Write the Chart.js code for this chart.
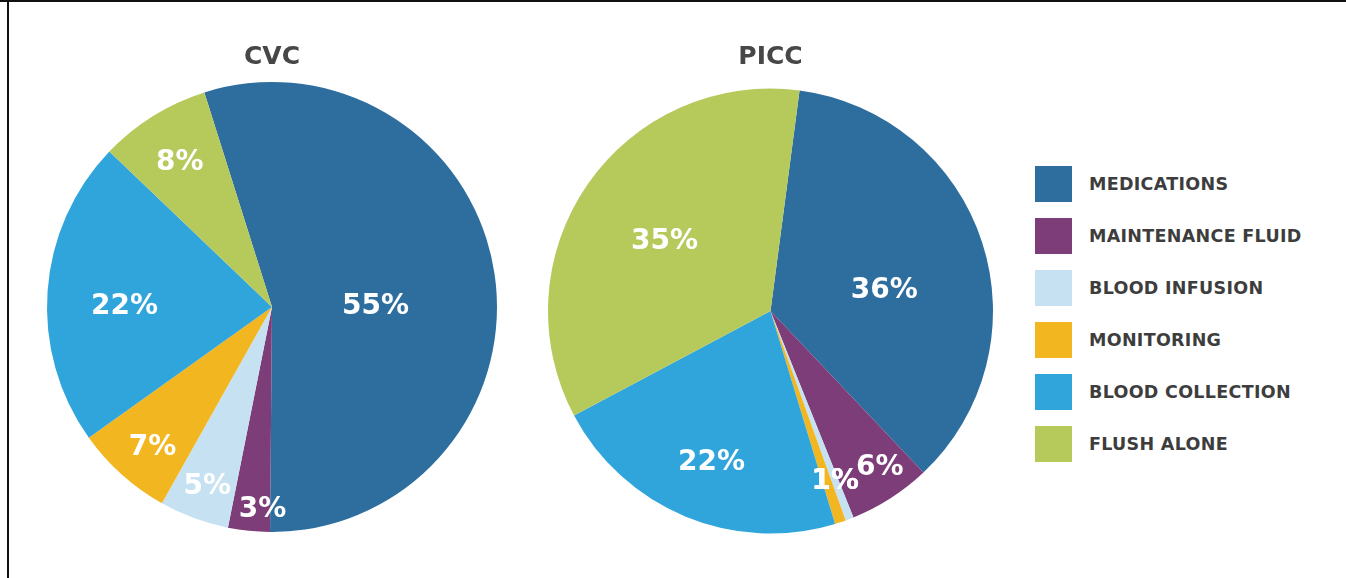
<!DOCTYPE html>
<html>
<head>
<meta charset="utf-8">
<script src="https://cdn.jsdelivr.net/npm/chart.js@4.4.1/dist/chart.umd.min.js"></script>
<style>
  html, body { margin: 0; padding: 0; background: #fff; }
  body { width: 1346px; height: 578px; position: relative; overflow: hidden; }
  .frame-top { position: absolute; left: 0; top: 0; width: 1346px; height: 2px; background: #111; }
  .frame-left { position: absolute; left: 7px; top: 0; width: 2px; height: 578px; background: #111; }
  #cvcWrap { position: absolute; left: 0; top: 0; width: 545px; height: 578px; }
  #piccWrap { position: absolute; left: 520px; top: 0; width: 500px; height: 578px; }
  #legend { position: absolute; left: 1035px; top: 166px; }
  .legend-row { display: flex; align-items: center; height: 36px; margin-bottom: 16px; }
  .legend-box { width: 37px; height: 36px; margin-right: 17px; }
  .legend-text { font-family: "DejaVu Sans", sans-serif; font-weight: bold; font-size: 17.5px; letter-spacing: 0.3px; color: #3d3d3d; white-space: nowrap; }
</style>
</head>
<body>
<div class="frame-top"></div>
<div class="frame-left"></div>
<div id="cvcWrap"><canvas id="cvcChart" width="545" height="578"></canvas></div>
<div id="piccWrap"><canvas id="piccChart" width="500" height="578"></canvas></div>
<div id="legend"></div>

<script>
// categories, in legend order (also slice order, clockwise)
const categories = [
    "MEDICATIONS",
    "MAINTENANCE FLUID",
    "BLOOD INFUSION",
    "MONITORING",
    "BLOOD COLLECTION",
    "FLUSH ALONE"
];

// share of line accesses, %
const cvcValues = [55, 3, 5, 7, 22, 8];
const piccValues = [36, 6, 0.6, 0.8, 22, 35];

const sliceColors = ["#2e6e9e", "#7c3d78", "#c6e1f2", "#f2b620", "#2fa5db", "#b6c95b"];

// where the % labels sit: fraction of radius, nudge in degrees
const cvcLabelPos = [
    { r: 0.46, d: 8.5 }, { r: 0.90, d: -3.2 }, { r: 0.85, d: -0.5 },
    { r: 0.82, d: -1.5 }, { r: 0.655, d: -4 }, { r: 0.76, d: -0.7 }
];
const piccLabelPos = [
    { r: 0.52, d: 7.7 }, { r: 0.86, d: -2.2 }, { r: 0.82, d: 0 },
    { r: 0.82, d: -2.4 }, { r: 0.73, d: -1.3 }, { r: 0.57, d: -1.4 }
];

const sliceLabels = {
    id: "sliceLabels",
    afterDatasetsDraw(chart, args, opts) {
        const ctx = chart.ctx;
        const meta = chart.getDatasetMeta(0);
        const values = chart.data.datasets[0].data;

        ctx.save();
        ctx.fillStyle = "#fff";
        ctx.font = "bold 28px 'DejaVu Sans', sans-serif";
        ctx.textAlign = "center";
        ctx.textBaseline = "middle";

        meta.data.forEach((arc, i) => {
            const pos = opts.positions[i];
            const a = (arc.startAngle + arc.endAngle) / 2 + pos.d * Math.PI / 180;
            const x = arc.x + Math.cos(a) * arc.outerRadius * pos.r;
            const y = arc.y + Math.sin(a) * arc.outerRadius * pos.r;
            ctx.fillText(Math.round(values[i]) + "%", x, y);
        });
        ctx.restore();
    }
};

function makePie(canvasId, title, values, rotation, padding, titlePad, labelPos) {
    return new Chart(document.getElementById(canvasId), {
        type: "pie",
        data: {
            labels: categories,
            datasets: [{
                data: values,
                backgroundColor: sliceColors,
                borderWidth: 0
            }]
        },
        options: {
            responsive: false,
            animation: false,
            rotation: rotation,
            layout: { padding: padding },
            plugins: {
                legend: { display: false },
                tooltip: { enabled: false },
                title: {
                    display: true,
                    text: title,
                    color: "#474747",
                    font: { family: "'DejaVu Sans', sans-serif", size: 25, weight: "bold" },
                    padding: titlePad
                },
                sliceLabels: { positions: labelPos }
            }
        },
        plugins: [sliceLabels]
    });
}

makePie("cvcChart", "CVC", cvcValues, -17.5,
    { left: 47, right: 48, top: 0, bottom: 46 },
    { top: 42.5, bottom: 9.5 }, cvcLabelPos);

makePie("piccChart", "PICC", piccValues, 7.5,
    { left: 28, right: 27, top: 0, bottom: 44 },
    { top: 42.6, bottom: 15.4 }, piccLabelPos);

// legend, built from the same categories and colours
const legend = document.getElementById("legend");
categories.forEach((name, i) => {
    const row = document.createElement("div");
    row.className = "legend-row";
    row.innerHTML = `<div class="legend-box" style="background:${sliceColors[i]}"></div>` +
        `<div class="legend-text">${name}</div>`;
    legend.appendChild(row);
});
</script>
</body>
</html>
